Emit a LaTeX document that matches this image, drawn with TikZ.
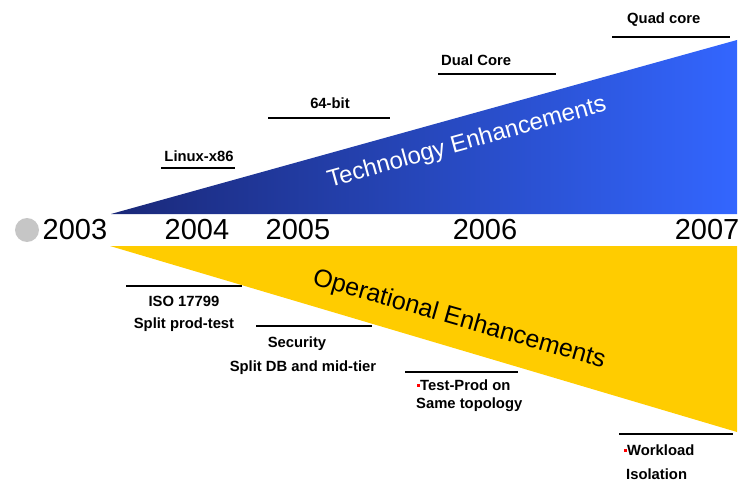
\documentclass[tikz,border=0pt]{standalone}
\usepackage{fontspec}
\setmainfont{Liberation Sans}
\definecolor{navy}{RGB}{26,40,120}
\definecolor{brightblue}{RGB}{51,102,255}
\definecolor{gold}{RGB}{255,204,0}
\begin{document}
\begin{tikzpicture}[x=1pt,y=-1pt,
  year/.style={font=\fontsize{29}{29}\selectfont, inner sep=0pt},
  lbl/.style={font=\fontsize{14.8}{16}\selectfont\bfseries, inner sep=0pt},
  mark line/.style={line width=2.8pt, black},
  bul/.style={fill=red, draw=none, minimum size=3pt, inner sep=0pt}]
\useasboundingbox (0,0) rectangle (741,481);
% triangles
\shade[left color=navy, right color=brightblue]
  (111,214) -- (737,40) -- (737,214) -- cycle;
\fill[gold] (110,246) -- (737,246) -- (737,432) -- cycle;
% years
\fill[gray!45] (27,230) circle (12);
\node[year] (y2003) at (75,230) {2003};
\node[year] (y2004) at (197,230) {2004};
\node[year] (y2005) at (298,230) {2005};
\node[year] (y2006) at (485,230) {2006};
\node[year] (y2007) at (707,230) {2007};
% big labels
\node[white, rotate=15.5, font=\fontsize{24}{24}\selectfont, inner sep=0pt] (tech) at (467,143) {Technology Enhancements};
\node[black, rotate=-16, font=\fontsize{25}{25}\selectfont, inner sep=0pt] (oper) at (459,320) {Operational Enhancements};
% tech milestones
\coordinate (l1a) at (161,168); \coordinate (l1b) at (235,168);
\draw[mark line] (l1a) -- (l1b);
\node[lbl] (linux) at (199,156) {Linux-x86};
\coordinate (l2a) at (268,118); \coordinate (l2b) at (390,118);
\draw[mark line] (l2a) -- (l2b);
\node[lbl] (b64) at (330,103) {64-bit};
\coordinate (l3a) at (438,74); \coordinate (l3b) at (556,74);
\draw[mark line] (l3a) -- (l3b);
\node[lbl, anchor=west] (dual) at (441,60) {Dual Core};
\coordinate (l4a) at (612,37); \coordinate (l4b) at (730,37);
\draw[mark line] (l4a) -- (l4b);
\node[lbl, anchor=west] (quad) at (627,20) {Quad core};
% operational milestones
\coordinate (o1a) at (126,286); \coordinate (o1b) at (242,286);
\draw[mark line] (o1a) -- (o1b);
\node[lbl] (iso) at (184,301) {ISO 17799};
\node[lbl] (split1) at (184,325) {Split prod-test};
\coordinate (o2a) at (256,326); \coordinate (o2b) at (372,326);
\draw[mark line] (o2a) -- (o2b);
\node[lbl] (sec) at (297,344) {Security};
\node[lbl] (split2) at (303,368) {Split DB and mid-tier};
\coordinate (o3a) at (405,372); \coordinate (o3b) at (518,372);
\draw[mark line] (o3a) -- (o3b);
\node[bul] (b1) at (418,385) {};
\node[lbl, anchor=west] (tp) at (420,385) {Test-Prod on};
\node[lbl, anchor=west] (st) at (416,405) {Same topology};
\coordinate (o4a) at (619,434); \coordinate (o4b) at (733,434);
\draw[mark line] (o4a) -- (o4b);
\node[bul] (b2) at (625,450) {};
\node[lbl, anchor=west] (wl) at (627,450) {Workload};
\node[lbl, anchor=west] (iso2) at (626,474) {Isolation};
\end{tikzpicture}
\end{document}
